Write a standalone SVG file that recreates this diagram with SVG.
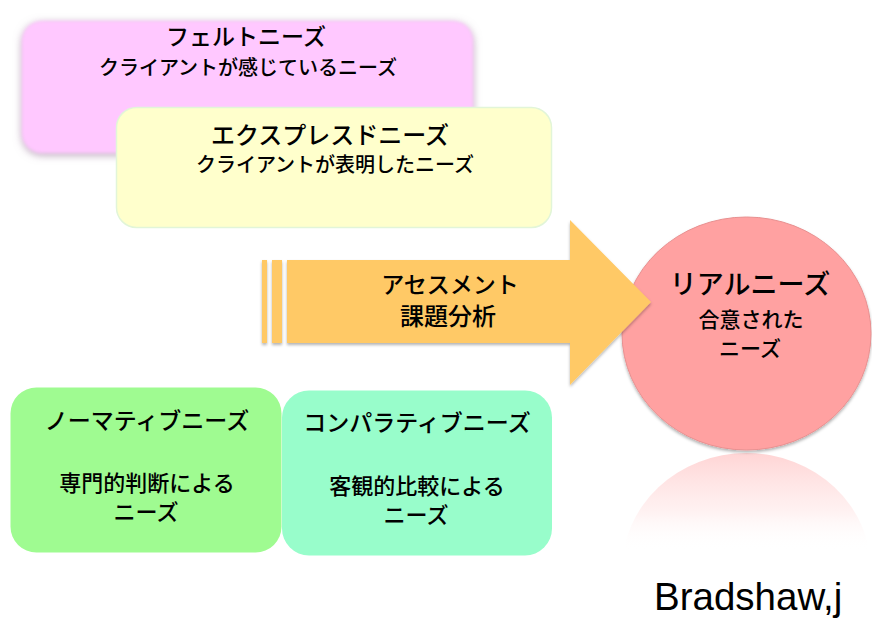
<svg xmlns="http://www.w3.org/2000/svg" width="872" height="619" viewBox="0 0 872 619">
<defs>
<style>
text{font-family:"Noto Sans CJK JP","Noto Sans",sans-serif;fill:#000;text-anchor:middle;font-weight:500}
.t{font-size:23px}
.s{font-size:20px}
.b{font-family:"Liberation Sans",Arial,sans-serif;font-size:38.5px;text-anchor:start;font-weight:normal}
</style>
<filter id="glow" x="-10%" y="-20%" width="120%" height="140%">
<feGaussianBlur in="SourceAlpha" stdDeviation="4" result="b"/>
<feFlood flood-color="#9a7c9a" flood-opacity="0.7"/>
<feComposite in2="b" operator="in" result="sh"/>
<feOffset dx="0" dy="2" result="o"/>
<feGaussianBlur in="SourceGraphic" stdDeviation="1.5" result="s"/>
<feMerge><feMergeNode in="o"/><feMergeNode in="s"/></feMerge>
</filter>
<filter id="sh" x="-10%" y="-10%" width="120%" height="130%">
<feGaussianBlur in="SourceAlpha" stdDeviation="1.5"/>
<feOffset dx="0" dy="1.5" result="o"/>
<feFlood flood-color="#000" flood-opacity="0.3"/>
<feComposite in2="o" operator="in" result="c"/>
<feMerge><feMergeNode in="c"/><feMergeNode in="SourceGraphic"/></feMerge>
</filter>
<linearGradient id="refl" gradientUnits="userSpaceOnUse" x1="0" y1="452" x2="0" y2="550">
<stop offset="0" stop-color="#ffcfcf" stop-opacity="0.9"/>
<stop offset="0.6" stop-color="#ffe8e8" stop-opacity="0.6"/>
<stop offset="1" stop-color="#ffffff" stop-opacity="0"/>
</linearGradient>
<clipPath id="rc"><rect x="600" y="451" width="272" height="110"/></clipPath>
</defs>
<rect width="872" height="619" fill="#fff"/>

<g id="felt">
<rect x="22" y="21" width="451" height="132" rx="20" fill="#ffc8ff" filter="url(#glow)"/>
<text class="t" x="246" y="45">フェルトニーズ</text>
<text class="s" x="248" y="75">クライアントが感じているニーズ</text>
</g>

<g id="expressed">
<rect x="116.5" y="107.5" width="435" height="120" rx="20" fill="#ffffcc" stroke="#e2f5d8" stroke-width="1.5"/>
<text x="330" y="144" style="font-size:24px">エクスプレスドニーズ</text>
<text class="s" x="335" y="172">クライアントが表明したニーズ</text>
</g>

<g id="real">
<ellipse cx="746.5" cy="570" rx="124.5" ry="117" fill="url(#refl)" clip-path="url(#rc)"/>
<ellipse cx="746.5" cy="333.5" rx="124.5" ry="116.5" fill="#ffa1a1" stroke="#e89090" stroke-width="1" filter="url(#sh)"/>
<text x="750" y="294" style="font-size:27px">リアルニーズ</text>
<text x="751" y="327" style="font-size:21px">合意された</text>
<text x="750" y="356" style="font-size:21px">ニーズ</text>
</g>

<g id="connectors">
<g id="assessment" filter="url(#sh)">
<rect x="262" y="260" width="5" height="83" fill="#ffc966"/>
<rect x="272" y="260" width="10" height="83" fill="#ffc966"/>
<polygon points="287,260 570,260 570,220 651,302 570,385 570,343 287,343" fill="#ffc966"/>
</g>
<text class="t" x="450" y="293">アセスメント</text>
<text x="448" y="325" style="font-size:24px">課題分析</text>
</g>

<g id="normative">
<rect x="10.5" y="387.5" width="271" height="165" rx="26" fill="#9ffb91"/>
<text x="147" y="429" style="font-size:23px">ノーマティブニーズ</text>
<text x="147" y="491" style="font-size:22px">専門的判断による</text>
<text x="146" y="520" style="font-size:22px">ニーズ</text>
</g>

<g id="comparative">
<rect x="282" y="390.5" width="270" height="165" rx="27" fill="#98fdcb"/>
<text x="417" y="431" style="font-size:23px">コンパラティブニーズ</text>
<text x="417" y="494" style="font-size:22px">客観的比較による</text>
<text x="416" y="523" style="font-size:22px">ニーズ</text>
</g>

<text class="b" x="654" y="610">Bradshaw,j</text>
</svg>
